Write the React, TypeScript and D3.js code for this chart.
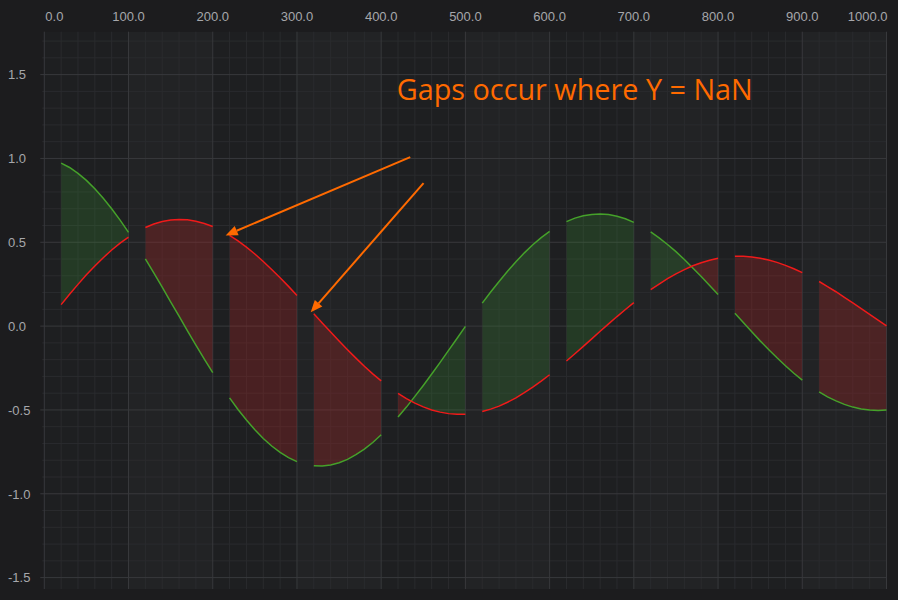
import React, { useEffect, useRef } from "react";
import * as d3 from "d3";

const width = 898,
  height = 600;
const plotLeft = 44.3,
  plotRight = 886.5,
  plotTop = 31.7,
  plotBottom = 589;

// x runs 0..1000 in steps of 10, one NaN every 10 points makes the gaps
const xValues = d3.range(0, 1001, 10);

const greenY = [
  NaN, NaN, 0.972, 0.946, 0.911, 0.869, 0.819, 0.763, 0.7, 0.632, 0.559,
  NaN, 0.401, 0.317, 0.232, 0.145, 0.059, -0.028, -0.113, -0.197, -0.277,
  NaN, -0.428, -0.497, -0.56, -0.618, -0.67, -0.715, -0.753, -0.784, -0.808,
  NaN, -0.833, -0.835, -0.828, -0.815, -0.795, -0.767, -0.734, -0.694, -0.648,
  NaN, -0.542, -0.483, -0.419, -0.354, -0.286, -0.216, -0.145, -0.074, -0.002,
  NaN, 0.137, 0.203, 0.266, 0.327, 0.384, 0.437, 0.485, 0.528, 0.565,
  NaN, 0.623, 0.644, 0.658, 0.666, 0.669, 0.665, 0.655, 0.64, 0.619,
  NaN, 0.562, 0.526, 0.487, 0.444, 0.397, 0.347, 0.296, 0.242, 0.188,
  NaN, 0.076, 0.021, -0.034, -0.088, -0.139, -0.189, -0.236, -0.281, -0.322,
  NaN, -0.392, -0.422, -0.446, -0.467, -0.483, -0.494, -0.501, -0.503, -0.5,
];

const redY = [
  NaN, NaN, 0.128, 0.19, 0.249, 0.306, 0.359, 0.408, 0.454, 0.495, 0.531,
  NaN, 0.588, 0.609, 0.624, 0.633, 0.636, 0.634, 0.626, 0.612, 0.594,
  NaN, 0.541, 0.508, 0.471, 0.43, 0.385, 0.338, 0.289, 0.237, 0.183,
  NaN, 0.074, 0.019, -0.035, -0.089, -0.141, -0.191, -0.239, -0.285, -0.327,
  NaN, -0.401, -0.432, -0.459, -0.482, -0.5, -0.513, -0.522, -0.526, -0.525,
  NaN, -0.509, -0.495, -0.477, -0.454, -0.428, -0.397, -0.364, -0.328, -0.29,
  NaN, -0.208, -0.165, -0.121, -0.076, -0.031, 0.013, 0.057, 0.099, 0.14,
  NaN, 0.217, 0.251, 0.283, 0.312, 0.337, 0.36, 0.378, 0.393, 0.405,
  NaN, 0.416, 0.416, 0.412, 0.405, 0.394, 0.38, 0.362, 0.342, 0.319,
  NaN, 0.266, 0.236, 0.205, 0.172, 0.138, 0.104, 0.07, 0.036, 0.002,
];

const xTicks = [0, 100, 200, 300, 400, 500, 600, 700, 800, 900, 1000];
const yTicks = [-1.5, -1.0, -0.5, 0.0, 0.5, 1.0, 1.5];

// annotations, in data units
const noteText = "Gaps occur where Y = NaN";
const notePos = [418.5, 1.35];
const arrows = [
  [434.5, 1.008, 215.3, 0.541],
  [450.3, 0.853, 316.3, 0.082],
];

const orange = "#ff6a00";

const App = () => {
  const svgRef = useRef<SVGSVGElement>(null);

  useEffect(() => {
    const svg = d3.select(svgRef.current);
    svg.selectAll("*").remove();

    const x = d3.scaleLinear().domain([0, 1000]).range([plotLeft, plotRight]);
    const y = d3.scaleLinear().domain([-1.568, 1.756]).range([plotBottom, plotTop]);

    svg.append("rect").attr("width", width).attr("height", height).attr("fill", "#1c1c1e");
    svg
      .append("rect")
      .attr("x", plotLeft)
      .attr("y", plotTop)
      .attr("width", plotRight - plotLeft)
      .attr("height", plotBottom - plotTop)
      .attr("fill", "#1e1f21");

    // alternate axis bands
    svg
      .append("g")
      .selectAll("rect")
      .data(xTicks.slice(0, -1).filter((d, i) => i % 2 == 1))
      .enter()
      .append("rect")
      .attr("x", d => x(d))
      .attr("y", plotTop)
      .attr("width", d => x(d + 100) - x(d))
      .attr("height", plotBottom - plotTop)
      .attr("fill", "#ffffff")
      .attr("opacity", 0.018);

    // minor grid
    const minorX = d3.range(0, 1001, 20).filter(d => d % 100 != 0);
    const minorY = d3.range(-15, 18).map(d => d / 10).filter(d => Math.round(d * 10) % 5 != 0);
    const grid = svg.append("g");
    grid
      .selectAll(".mx")
      .data(minorX)
      .enter()
      .append("line")
      .attr("x1", d => x(d))
      .attr("x2", d => x(d))
      .attr("y1", plotTop)
      .attr("y2", plotBottom)
      .attr("stroke", "#2a2b2e")
      .attr("stroke-width", 1);
    grid
      .selectAll(".my")
      .data(minorY)
      .enter()
      .append("line")
      .attr("x1", plotLeft - 2)
      .attr("x2", plotRight)
      .attr("y1", d => y(d))
      .attr("y2", d => y(d))
      .attr("stroke", "#2a2b2e")
      .attr("stroke-width", 1);

    // major grid
    grid
      .selectAll(".Mx")
      .data(xTicks)
      .enter()
      .append("line")
      .attr("x1", d => x(d))
      .attr("x2", d => x(d))
      .attr("y1", plotTop)
      .attr("y2", plotBottom)
      .attr("stroke", "#38393c")
      .attr("stroke-width", 1);
    grid
      .selectAll(".My")
      .data(yTicks)
      .enter()
      .append("line")
      .attr("x1", plotLeft - 4)
      .attr("x2", plotRight)
      .attr("y1", d => y(d))
      .attr("y2", d => y(d))
      .attr("stroke", "#38393c")
      .attr("stroke-width", 1);

    // labels
    svg
      .append("g")
      .selectAll("text")
      .data(xTicks)
      .enter()
      .append("text")
      .attr("x", (d, i) => (i == 0 ? plotLeft + 1 : i == xTicks.length - 1 ? plotRight + 1 : x(d)))
      .attr("y", 21)
      .attr("text-anchor", (d, i) => (i == 0 ? "start" : i == xTicks.length - 1 ? "end" : "middle"))
      .attr("font-family", "Arial, 'Liberation Sans', sans-serif")
      .attr("font-size", 13)
      .attr("fill", "#a6a7ab")
      .text(d => d.toFixed(1));

    svg
      .append("g")
      .selectAll("text")
      .data(yTicks)
      .enter()
      .append("text")
      .attr("x", 8)
      .attr("y", d => y(d) + 4.8)
      .attr("font-family", "Arial, 'Liberation Sans', sans-serif")
      .attr("font-size", 13)
      .attr("fill", "#a6a7ab")
      .text(d => d.toFixed(1));

    // band series
    const data = xValues.map((d, i) => ({ x: d, g: greenY[i], r: redY[i] }));
    const ok = d => !isNaN(d.g) && !isNaN(d.r);

    const between = d3
      .area()
      .defined(ok)
      .x(d => x(d.x))
      .y0(d => y(d.r))
      .y1(d => y(d.g));
    const aboveRed = d3
      .area()
      .defined(ok)
      .x(d => x(d.x))
      .y0(plotTop)
      .y1(d => y(d.r));
    const belowRed = d3
      .area()
      .defined(ok)
      .x(d => x(d.x))
      .y0(plotBottom)
      .y1(d => y(d.r));

    const defs = svg.append("defs");
    defs.append("clipPath").attr("id", "clip-above").append("path").attr("d", aboveRed(data));
    defs.append("clipPath").attr("id", "clip-below").append("path").attr("d", belowRed(data));

    svg
      .append("path")
      .attr("d", between(data))
      .attr("clip-path", "url(#clip-above)")
      .attr("fill", "rgba(55,140,50,0.25)");
    svg
      .append("path")
      .attr("d", between(data))
      .attr("clip-path", "url(#clip-below)")
      .attr("fill", "rgba(174,35,37,0.3)");

    const greenLine = d3
      .line()
      .defined(d => !isNaN(d.g))
      .x(d => x(d.x))
      .y(d => y(d.g));
    const redLine = d3
      .line()
      .defined(d => !isNaN(d.r))
      .x(d => x(d.x))
      .y(d => y(d.r));

    svg
      .append("path")
      .attr("d", greenLine(data))
      .attr("fill", "none")
      .attr("stroke", "#45a12a")
      .attr("stroke-width", 1.5);
    svg
      .append("path")
      .attr("d", redLine(data))
      .attr("fill", "none")
      .attr("stroke", "#f01a1a")
      .attr("stroke-width", 1.5);

    // annotations
    svg
      .append("text")
      .attr("x", x(notePos[0]))
      .attr("y", y(notePos[1]))
      .attr("font-family", "'Open Sans', 'Noto Sans', sans-serif")
      .attr("font-size", 28.8)
      .attr("fill", orange)
      .text(noteText);

    arrows.forEach(a => {
      var x1 = x(a[0]),
        y1 = y(a[1]),
        x2 = x(a[2]),
        y2 = y(a[3]);
      var len = Math.hypot(x2 - x1, y2 - y1);
      var ux = (x2 - x1) / len,
        uy = (y2 - y1) / len;
      var head = 12,
        half = 5;
      var bx = x2 - ux * head,
        by = y2 - uy * head;
      svg
        .append("line")
        .attr("x1", x1)
        .attr("y1", y1)
        .attr("x2", bx)
        .attr("y2", by)
        .attr("stroke", orange)
        .attr("stroke-width", 2);
      svg
        .append("polygon")
        .attr("points", [
          [x2, y2],
          [bx - uy * half, by + ux * half],
          [bx + uy * half, by - ux * half],
        ].join(" "))
        .attr("fill", orange);
    });
  }, []);

  return (
    <svg
      ref={svgRef}
      width={width}
      height={height}
      style={{ position: "absolute", left: 0, top: 0, display: "block" }}
    ></svg>
  );
};

export default App;
